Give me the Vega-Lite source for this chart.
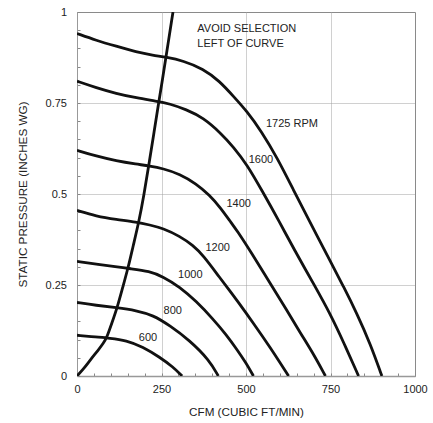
{
  "$schema": "https://vega.github.io/schema/vega-lite/v6.json",
  "autosize": "none",
  "width": 338,
  "height": 364,
  "padding": {"left": 77, "top": 12, "right": 18, "bottom": 47},
  "background": "white",
  "config": {
    "view": {"stroke": "#8a8a8a", "strokeWidth": 1},
    "font": "Liberation Sans"
  },
  "datasets": {
    "curves": [
      {"curve": "1725", "cfm": 0, "sp": 0.941},
      {"curve": "1725", "cfm": 57, "sp": 0.922},
      {"curve": "1725", "cfm": 116, "sp": 0.906},
      {"curve": "1725", "cfm": 176, "sp": 0.890},
      {"curve": "1725", "cfm": 225, "sp": 0.881},
      {"curve": "1725", "cfm": 264, "sp": 0.876},
      {"curve": "1725", "cfm": 314, "sp": 0.866},
      {"curve": "1725", "cfm": 373, "sp": 0.844},
      {"curve": "1725", "cfm": 422, "sp": 0.810},
      {"curve": "1725", "cfm": 463, "sp": 0.768},
      {"curve": "1725", "cfm": 503, "sp": 0.727},
      {"curve": "1725", "cfm": 545, "sp": 0.673},
      {"curve": "1725", "cfm": 592, "sp": 0.600},
      {"curve": "1725", "cfm": 641, "sp": 0.510},
      {"curve": "1725", "cfm": 690, "sp": 0.421},
      {"curve": "1725", "cfm": 749, "sp": 0.316},
      {"curve": "1725", "cfm": 789, "sp": 0.245},
      {"curve": "1725", "cfm": 828, "sp": 0.172},
      {"curve": "1725", "cfm": 868, "sp": 0.088},
      {"curve": "1725", "cfm": 902, "sp": 0},
      {"curve": "1600", "cfm": 0, "sp": 0.810},
      {"curve": "1600", "cfm": 57, "sp": 0.792},
      {"curve": "1600", "cfm": 116, "sp": 0.776},
      {"curve": "1600", "cfm": 176, "sp": 0.764},
      {"curve": "1600", "cfm": 235, "sp": 0.755},
      {"curve": "1600", "cfm": 274, "sp": 0.748},
      {"curve": "1600", "cfm": 323, "sp": 0.732},
      {"curve": "1600", "cfm": 373, "sp": 0.710},
      {"curve": "1600", "cfm": 428, "sp": 0.665},
      {"curve": "1600", "cfm": 463, "sp": 0.629},
      {"curve": "1600", "cfm": 503, "sp": 0.581},
      {"curve": "1600", "cfm": 547, "sp": 0.510},
      {"curve": "1600", "cfm": 601, "sp": 0.420},
      {"curve": "1600", "cfm": 641, "sp": 0.350},
      {"curve": "1600", "cfm": 705, "sp": 0.245},
      {"curve": "1600", "cfm": 749, "sp": 0.171},
      {"curve": "1600", "cfm": 790, "sp": 0.090},
      {"curve": "1600", "cfm": 833, "sp": 0},
      {"curve": "1400", "cfm": 0, "sp": 0.620},
      {"curve": "1400", "cfm": 57, "sp": 0.604},
      {"curve": "1400", "cfm": 116, "sp": 0.591},
      {"curve": "1400", "cfm": 176, "sp": 0.582},
      {"curve": "1400", "cfm": 215, "sp": 0.577},
      {"curve": "1400", "cfm": 254, "sp": 0.570},
      {"curve": "1400", "cfm": 304, "sp": 0.555},
      {"curve": "1400", "cfm": 353, "sp": 0.528},
      {"curve": "1400", "cfm": 392, "sp": 0.497},
      {"curve": "1400", "cfm": 424, "sp": 0.463},
      {"curve": "1400", "cfm": 454, "sp": 0.424},
      {"curve": "1400", "cfm": 473, "sp": 0.400},
      {"curve": "1400", "cfm": 515, "sp": 0.340},
      {"curve": "1400", "cfm": 572, "sp": 0.254},
      {"curve": "1400", "cfm": 620, "sp": 0.182},
      {"curve": "1400", "cfm": 661, "sp": 0.118},
      {"curve": "1400", "cfm": 700, "sp": 0.060},
      {"curve": "1400", "cfm": 735, "sp": 0},
      {"curve": "1200", "cfm": 0, "sp": 0.455},
      {"curve": "1200", "cfm": 57, "sp": 0.439},
      {"curve": "1200", "cfm": 116, "sp": 0.430},
      {"curve": "1200", "cfm": 176, "sp": 0.423},
      {"curve": "1200", "cfm": 215, "sp": 0.415},
      {"curve": "1200", "cfm": 254, "sp": 0.406},
      {"curve": "1200", "cfm": 304, "sp": 0.384},
      {"curve": "1200", "cfm": 343, "sp": 0.359},
      {"curve": "1200", "cfm": 373, "sp": 0.332},
      {"curve": "1200", "cfm": 424, "sp": 0.268},
      {"curve": "1200", "cfm": 454, "sp": 0.232},
      {"curve": "1200", "cfm": 473, "sp": 0.208},
      {"curve": "1200", "cfm": 522, "sp": 0.145},
      {"curve": "1200", "cfm": 572, "sp": 0.078},
      {"curve": "1200", "cfm": 626, "sp": 0},
      {"curve": "1000", "cfm": 0, "sp": 0.315},
      {"curve": "1000", "cfm": 57, "sp": 0.307},
      {"curve": "1000", "cfm": 116, "sp": 0.300},
      {"curve": "1000", "cfm": 156, "sp": 0.295},
      {"curve": "1000", "cfm": 215, "sp": 0.288},
      {"curve": "1000", "cfm": 254, "sp": 0.273},
      {"curve": "1000", "cfm": 304, "sp": 0.245},
      {"curve": "1000", "cfm": 353, "sp": 0.205},
      {"curve": "1000", "cfm": 402, "sp": 0.157},
      {"curve": "1000", "cfm": 442, "sp": 0.113},
      {"curve": "1000", "cfm": 473, "sp": 0.073},
      {"curve": "1000", "cfm": 500, "sp": 0.036},
      {"curve": "1000", "cfm": 522, "sp": 0},
      {"curve": "800", "cfm": 0, "sp": 0.202},
      {"curve": "800", "cfm": 57, "sp": 0.194},
      {"curve": "800", "cfm": 116, "sp": 0.188},
      {"curve": "800", "cfm": 176, "sp": 0.180},
      {"curve": "800", "cfm": 225, "sp": 0.167},
      {"curve": "800", "cfm": 274, "sp": 0.139},
      {"curve": "800", "cfm": 333, "sp": 0.098},
      {"curve": "800", "cfm": 392, "sp": 0.043},
      {"curve": "800", "cfm": 418, "sp": 0},
      {"curve": "600", "cfm": 0, "sp": 0.112},
      {"curve": "600", "cfm": 57, "sp": 0.107},
      {"curve": "600", "cfm": 96, "sp": 0.104},
      {"curve": "600", "cfm": 146, "sp": 0.098},
      {"curve": "600", "cfm": 195, "sp": 0.080},
      {"curve": "600", "cfm": 244, "sp": 0.052},
      {"curve": "600", "cfm": 284, "sp": 0.025},
      {"curve": "600", "cfm": 311, "sp": 0},
      {"curve": "surge", "cfm": 0, "sp": 0},
      {"curve": "surge", "cfm": 20, "sp": 0.020},
      {"curve": "surge", "cfm": 40, "sp": 0.045},
      {"curve": "surge", "cfm": 62, "sp": 0.070},
      {"curve": "surge", "cfm": 78, "sp": 0.090},
      {"curve": "surge", "cfm": 88, "sp": 0.105},
      {"curve": "surge", "cfm": 103, "sp": 0.145},
      {"curve": "surge", "cfm": 119, "sp": 0.188},
      {"curve": "surge", "cfm": 135, "sp": 0.243},
      {"curve": "surge", "cfm": 151, "sp": 0.296},
      {"curve": "surge", "cfm": 166, "sp": 0.357},
      {"curve": "surge", "cfm": 183, "sp": 0.423},
      {"curve": "surge", "cfm": 198, "sp": 0.497},
      {"curve": "surge", "cfm": 212, "sp": 0.577},
      {"curve": "surge", "cfm": 227, "sp": 0.664},
      {"curve": "surge", "cfm": 242, "sp": 0.753},
      {"curve": "surge", "cfm": 253, "sp": 0.815},
      {"curve": "surge", "cfm": 263, "sp": 0.875},
      {"curve": "surge", "cfm": 284, "sp": 1.0}
    ],
    "labels": [
      {"label": "AVOID SELECTION", "cfm": 356, "sp": 0.952},
      {"label": "LEFT OF CURVE", "cfm": 356, "sp": 0.913},
      {"label": "1725 RPM", "cfm": 559, "sp": 0.691},
      {"label": "1600", "cfm": 508, "sp": 0.593},
      {"label": "1400", "cfm": 442, "sp": 0.472},
      {"label": "1200", "cfm": 380, "sp": 0.353},
      {"label": "1000", "cfm": 299, "sp": 0.278},
      {"label": "800", "cfm": 256, "sp": 0.178},
      {"label": "600", "cfm": 183, "sp": 0.105}
    ]
  },
  "encoding": {
    "x": {
      "field": "cfm", "type": "quantitative",
      "scale": {"domain": [0, 1000], "nice": false, "zero": false},
      "axis": {
        "title": "CFM (CUBIC FT/MIN)",
        "values": [0,50,100,150,200,250,300,350,400,450,500,550,600,650,700,750,800,850,900,950,1000],
        "labelExpr": "datum.value % 250 === 0 ? format(datum.value, 'd') : ''",
        "labelOverlap": false,
        "labelFlush": false,
        "labelFontSize": 11,
        "labelColor": "#222222",
        "labelPadding": 10,
        "tickSize": -3,
        "tickColor": "#888888",
        "domainColor": "#999999",
        "domainWidth": 1.5,
        "grid": true,
        "gridColor": "#a0a0a0",
        "gridDash": [1, 1],
        "gridOpacity": {"condition": {"test": "datum.value % 250 === 0 && datum.value > 0 && datum.value < 1000", "value": 1}, "value": 0},
        "titleFontSize": 11.7,
        "titleFontWeight": "normal",
        "titleColor": "#222222",
        "titlePadding": 12
      }
    },
    "y": {
      "field": "sp", "type": "quantitative",
      "scale": {"domain": [0, 1], "nice": false},
      "axis": {
        "title": "STATIC PRESSURE (INCHES WG)",
        "values": [0,0.05,0.1,0.15,0.2,0.25,0.3,0.35,0.4,0.45,0.5,0.55,0.6,0.65,0.7,0.75,0.8,0.85,0.9,0.95,1],
        "labelExpr": "abs(datum.value*4 - round(datum.value*4)) < 0.000001 ? format(datum.value, '~g') : ''",
        "labelOverlap": false,
        "labelFlush": false,
        "labelFontSize": 11,
        "labelColor": "#222222",
        "labelPadding": 13.5,
        "tickSize": -3,
        "tickColor": "#888888",
        "domainColor": "#999999",
        "domainWidth": 1,
        "grid": true,
        "gridColor": "#a0a0a0",
        "gridDash": [1, 1],
        "gridOpacity": {"condition": {"test": "abs(datum.value*4 - round(datum.value*4)) < 0.000001 && datum.value > 0 && datum.value < 1", "value": 1}, "value": 0},
        "titleFontSize": 11.7,
        "titleFontWeight": "normal",
        "titleColor": "#222222",
        "titlePadding": 17
      }
    }
  },
  "layer": [
    {
      "data": {"name": "curves"},
      "mark": {"type": "line", "interpolate": "basis", "color": "#111111", "strokeWidth": 2.8, "clip": true},
      "encoding": {
        "detail": {"field": "curve"}
      }
    },
    {
      "data": {"name": "labels"},
      "mark": {"type": "text", "align": "left", "baseline": "middle", "fontSize": 11, "font": "Liberation Sans", "color": "#222222"},
      "encoding": {
        "text": {"field": "label"}
      }
    }
  ]
}
